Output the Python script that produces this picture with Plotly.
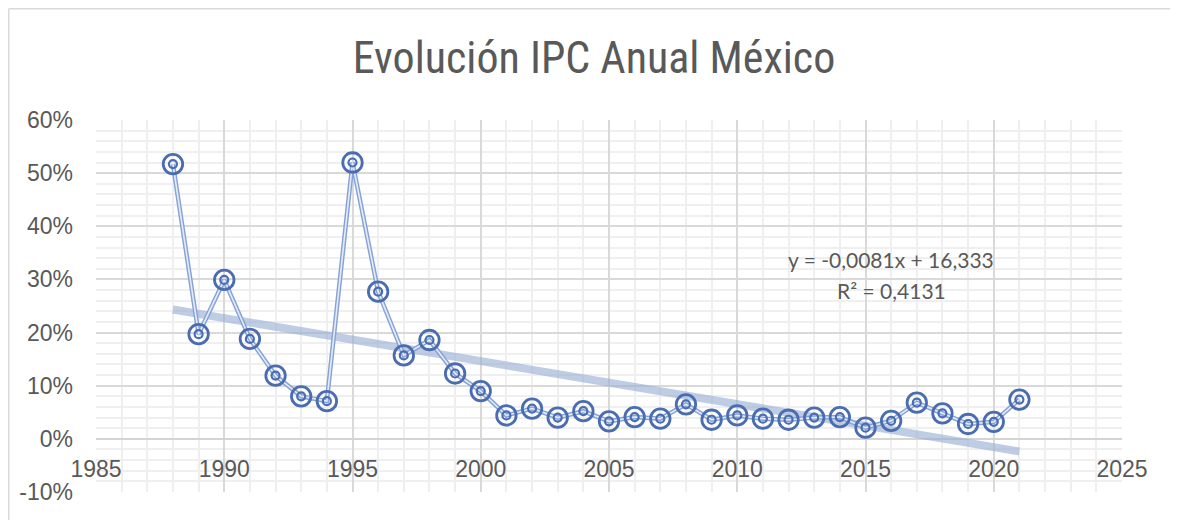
import numpy as np
import plotly.graph_objects as go

years = list(range(1988, 2022))
ipc = [51.7, 19.7, 29.9, 18.8, 11.9, 8.0, 7.1, 52.0, 27.7, 15.7, 18.6, 12.3, 9.0,
       4.4, 5.7, 4.0, 5.2, 3.3, 4.1, 3.8, 6.5, 3.6, 4.4, 3.8, 3.6, 4.0, 4.1,
       2.1, 3.4, 6.8, 4.8, 2.8, 3.2, 7.4]

y_tickvals = [-10, 0, 10, 20, 30, 40, 50, 60]
y_ticktext = ["-10%", "0%", "10%", "20%", "30%", "40%", "50%", "60%"]
x_tickvals = [1985, 1990, 1995, 2000, 2005, 2010, 2015, 2020, 2025]
x_ticktext = ["1985", "1990", "1995", "2000", "2005", "2010", "2015", "2020", "2025"]

title_text = "Evolución IPC Anual México"
eq_line1 = "y = -0,0081x + 16,333"
eq_line2 = "R² = 0,4131"

# linear trendline (least squares, as Excel does)
slope, intercept = np.polyfit(years, ipc, 1)
trend_x = [years[0], years[-1]]
trend_y = [slope * x + intercept for x in trend_x]

# page has an 8px body margin, so the figure is sized/placed to compensate
W, H = 1170, 512
L, R, T, B = 88, 56, 112, 28
pw, ph = W - L - R, H - T - B

ring = "#4A6CB0"
fig = go.Figure()

fig.add_trace(go.Scatter(x=trend_x, y=trend_y, mode="lines",
                         line=dict(color="rgba(150,172,212,0.62)", width=8),
                         hoverinfo="skip", showlegend=False))
# double (compound) line
fig.add_trace(go.Scatter(x=years, y=ipc, mode="lines",
                         line=dict(color="#86A3D8", width=4.5),
                         hoverinfo="skip", showlegend=False))
fig.add_trace(go.Scatter(x=years, y=ipc, mode="lines",
                         line=dict(color="#E6ECF7", width=1.6),
                         hoverinfo="skip", showlegend=False))
# outer ring markers
fig.add_trace(go.Scatter(x=years, y=ipc, mode="markers",
                         marker=dict(symbol="circle-open", size=19.5, color=ring,
                                     line=dict(width=2.8, color=ring)),
                         showlegend=False))
# inner ring markers
fig.add_trace(go.Scatter(x=years, y=ipc, mode="markers",
                         marker=dict(symbol="circle-open", size=8, color=ring,
                                     line=dict(width=2.2, color=ring)),
                         hoverinfo="skip", showlegend=False))

tick_font = dict(family="Liberation Sans, Arial, sans-serif", size=23, color="#595959")

fig.update_layout(
    width=W, height=H,
    margin=dict(l=L, r=R, t=T, b=B),
    paper_bgcolor="white", plot_bgcolor="white",
    showlegend=False,
    title=dict(text='<span style="font-stretch:condensed">' + title_text + '</span>',
               x=586 / W, xref="container", xanchor="center",
               y=1 - 50 / H, yref="container", yanchor="middle",
               font=dict(family="Roboto Condensed, Open Sans, sans-serif",
                         size=44, color="#595959", weight=400)),
    xaxis=dict(range=[1985, 2025], tickvals=x_tickvals, ticktext=x_ticktext,
               showgrid=True, gridcolor="#D9D9D9", gridwidth=1.5,
               minor=dict(dtick=1, showgrid=True, gridcolor="#EFEFEF", gridwidth=1.5),
               zeroline=False, showline=False, ticks="",
               anchor="free", position=10 / 70,
               tickfont=tick_font, ticklabelstandoff=14, fixedrange=True),
    yaxis=dict(range=[-10, 60], tickvals=y_tickvals, ticktext=y_ticktext,
               showgrid=True, gridcolor="#D9D9D9", gridwidth=1.5,
               minor=dict(dtick=2, tick0=0, showgrid=True, gridcolor="#EFEFEF", gridwidth=1.5),
               zeroline=True, zerolinecolor="#D4D4D4", zerolinewidth=2,
               showline=False, ticks="",
               tickfont=tick_font, ticklabelstandoff=22, fixedrange=True),
)

eq_font = dict(family="Lato, Open Sans, sans-serif", size=21, color="#595959")
fig.add_annotation(x=2016.0, y=33.7, text=eq_line1, showarrow=False,
                   xanchor="center", yanchor="middle", font=eq_font)
fig.add_annotation(x=2016.0, y=28.0, text=eq_line2, showarrow=False,
                   xanchor="center", yanchor="middle", font=eq_font)

# chart-area border (left and top)
x0 = (0.75 - L) / pw
y_top = (H - B - 0.75) / ph
y_bot = (H - B - (H + 5)) / ph
fig.add_shape(type="line", xref="paper", yref="paper", x0=x0, x1=x0, y0=y_bot, y1=y_top,
              line=dict(color="#D9D9D9", width=1.5))
fig.add_shape(type="line", xref="paper", yref="paper", x0=x0, x1=(W + 5 - L) / pw, y0=y_top, y1=y_top,
              line=dict(color="#D9D9D9", width=1.5))

fig.write_html("out.html")
